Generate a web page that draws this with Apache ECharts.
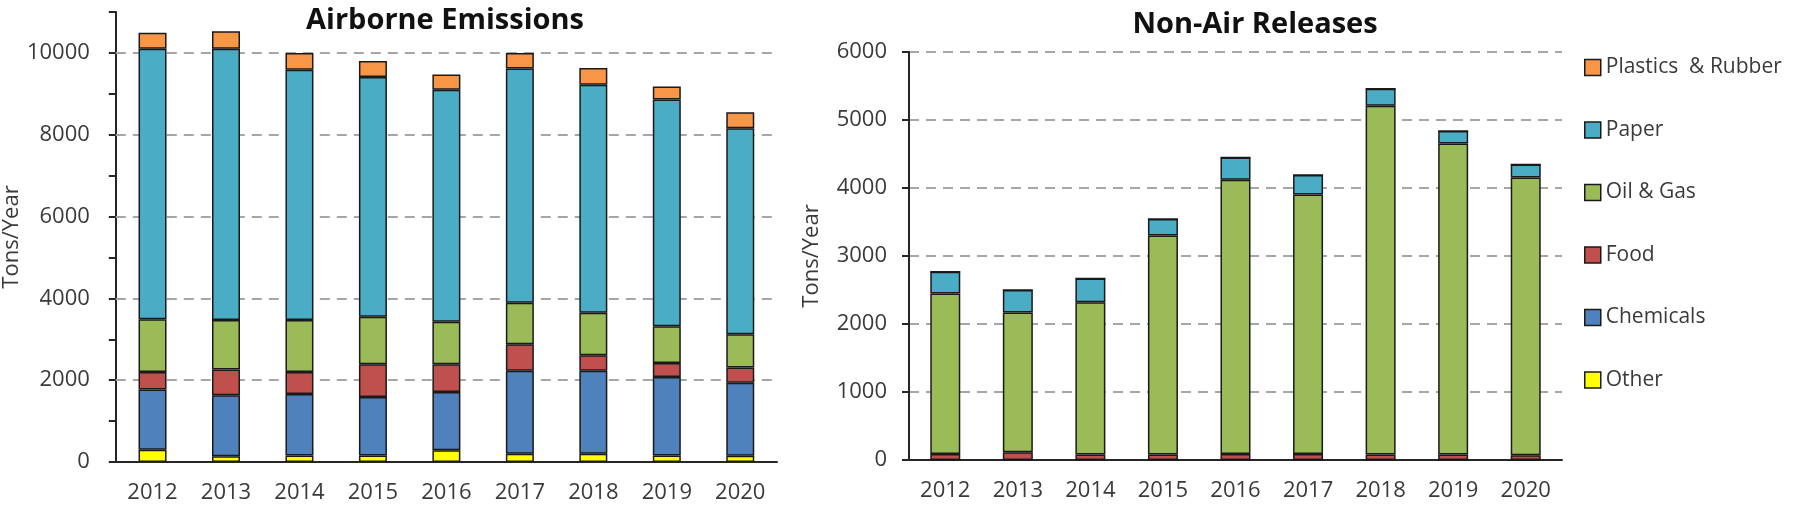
<!DOCTYPE html>
<html>
<head>
<meta charset="utf-8">
<script src="https://cdn.jsdelivr.net/npm/echarts@6/dist/echarts.min.js"></script>
<style>
  html, body { margin: 0; padding: 0; background: #fff; }
  #main { width: 1800px; height: 508px; }
</style>
</head>
<body>
<div id="main"></div>
<script>
// years on both x axes
var years = ['2012', '2013', '2014', '2015', '2016', '2017', '2018', '2019', '2020'];

// sectors, bottom of the stack first
var sectors = ['Other', 'Chemicals', 'Food', 'Oil & Gas', 'Paper', 'Plastics  & Rubber'];
var colors  = ['#FFFF00', '#4F81BD', '#C0504D', '#9BBB59', '#4BACC6', '#F79646'];

// Airborne emissions, tons/year
var airOther     = [300, 140, 160, 160, 290, 200, 200, 160, 150];
var airChemicals = [1470, 1490, 1500, 1430, 1420, 2030, 2030, 1920, 1790];
var airFood      = [430, 630, 540, 800, 680, 650, 380, 340, 370];
var airOilGas    = [1290, 1210, 1270, 1160, 1040, 1010, 1040, 900, 810];
var airPaper     = [6610, 6630, 6120, 5860, 5670, 5730, 5570, 5540, 5040];
var airPlastics  = [390, 430, 410, 390, 370, 380, 410, 320, 390];

// Non-air releases, tons/year
var nonOther     = [0, 0, 0, 0, 0, 0, 0, 0, 0];
var nonChemicals = [0, 0, 0, 0, 0, 0, 0, 0, 0];
var nonFood      = [90, 115, 80, 80, 90, 90, 80, 80, 70];
var nonOilGas    = [2360, 2055, 2240, 3220, 4030, 3815, 5130, 4575, 4085];
var nonPaper     = [320, 330, 350, 245, 330, 285, 250, 185, 190];
var nonPlastics  = [0, 0, 0, 0, 0, 0, 0, 0, 0];

var airTicks = [2000, 4000, 6000, 8000, 10000];

var FONT = 'Open Sans';
var TXT = '#3a3a3a';

var airData = [airOther, airChemicals, airFood, airOilGas, airPaper, airPlastics];
var nonData = [nonOther, nonChemicals, nonFood, nonOilGas, nonPaper, nonPlastics];

var dash = { color: '#a6a6a6', width: 2, type: [10, 7] };

var series = [];
sectors.forEach(function (name, i) {
    var s = {
        name: name,
        type: 'bar',
        stack: 'air',
        xAxisIndex: 0,
        yAxisIndex: 0,
        barWidth: 28,
        itemStyle: { color: colors[i], borderColor: '#1a1a1a', borderWidth: 1.5 },
        data: airData[i]
    };
    if (i === 0) {
        // dashed gridlines only at the labelled values
        s.markLine = {
            silent: true,
            symbol: 'none',
            label: { show: false },
            lineStyle: dash,
            z: 1,
            data: airTicks.map(function (v) { return { yAxis: v }; })
        };
    }
    series.push(s);
});
sectors.forEach(function (name, i) {
    series.push({
        name: name,
        type: 'bar',
        stack: 'non',
        xAxisIndex: 1,
        yAxisIndex: 1,
        barWidth: 30,
        itemStyle: { color: colors[i], borderColor: '#1a1a1a', borderWidth: 1.5 },
        data: nonData[i]
    });
});

var axisLineStyle = { color: '#262626', width: 2 };

var chart = echarts.init(document.getElementById('main'));
chart.setOption({
    animation: false,
    textStyle: { fontFamily: FONT },
    title: [
        { text: 'Airborne Emissions', left: 440, top: 1, textAlign: 'center',
          textStyle: { fontFamily: FONT, fontSize: 29, fontWeight: 'bold', color: '#111' } },
        { text: 'Non-Air Releases', left: 1250, top: 5, textAlign: 'center',
          textStyle: { fontFamily: FONT, fontSize: 29, fontWeight: 'bold', color: '#111' } }
    ],
    legend: {
        orient: 'vertical',
        left: 1579,
        top: 52,
        itemWidth: 16,
        itemHeight: 16,
        itemGap: 41.5,
        itemTextGap: 6,
        icon: 'rect',
        data: sectors.slice().reverse(),
        textStyle: { fontFamily: FONT, fontSize: 21, color: TXT },
        itemStyle: { borderColor: '#1a1a1a', borderWidth: 1.5 }
    },
    grid: [
        { left: 115, top: 12, width: 662, height: 450 },
        { left: 909, top: 52, width: 653, height: 408 }
    ],
    xAxis: [
        { type: 'category', gridIndex: 0, data: years,
          axisLine: { lineStyle: axisLineStyle }, axisTick: { show: false },
          axisLabel: { margin: 20, fontSize: 22, color: TXT, fontFamily: FONT } },
        { type: 'category', gridIndex: 1, data: years,
          axisLine: { lineStyle: axisLineStyle }, axisTick: { show: false },
          axisLabel: { margin: 20, fontSize: 22, color: TXT, fontFamily: FONT } }
    ],
    yAxis: [
        { type: 'value', gridIndex: 0, min: 0, max: 11000, interval: 1000,
          name: 'Tons/Year', nameLocation: 'middle', nameGap: 84,
          nameTextStyle: { fontSize: 22, color: TXT, fontFamily: FONT },
          axisLine: { show: true, lineStyle: axisLineStyle },
          axisTick: { show: true, inside: false, length: 7, lineStyle: axisLineStyle },
          splitLine: { show: false },
          axisLabel: { margin: 26, fontSize: 22, color: TXT, fontFamily: FONT,
                       formatter: function (v) { return (v % 2000 === 0 && v <= 10000) ? String(v) : ''; } } },
        { type: 'value', gridIndex: 1, min: 0, max: 6000, interval: 1000,
          name: 'Tons/Year', nameLocation: 'middle', nameGap: 86,
          nameTextStyle: { fontSize: 22, color: TXT, fontFamily: FONT },
          axisLine: { show: true, lineStyle: axisLineStyle },
          axisTick: { show: true, inside: false, length: 7, lineStyle: axisLineStyle },
          splitLine: { show: true, lineStyle: dash },
          axisLabel: { margin: 22, fontSize: 22, color: TXT, fontFamily: FONT,
                       formatter: function (v) { return String(v); } } }
    ],
    series: series
});
</script>
</body>
</html>
